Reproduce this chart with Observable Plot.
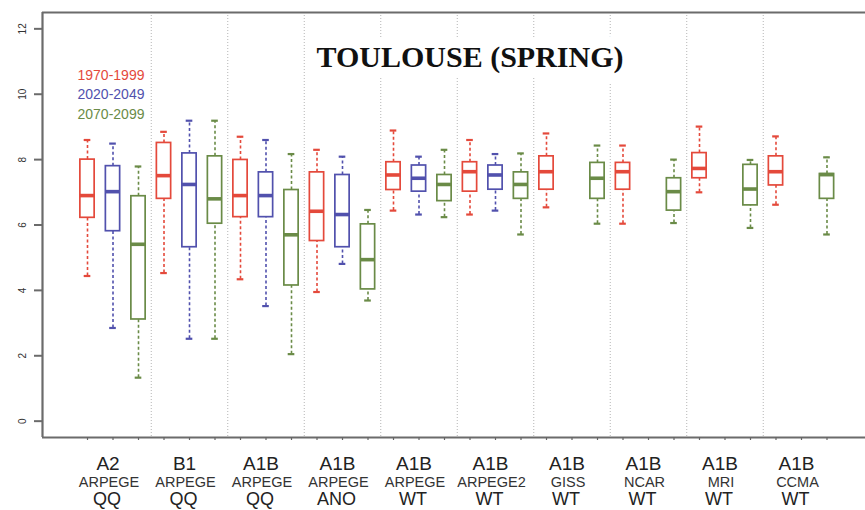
<!DOCTYPE html>
<html>
<head>
<meta charset="utf-8">
<script src="https://cdn.jsdelivr.net/npm/d3@7"></script>
<script src="https://cdn.jsdelivr.net/npm/@observablehq/plot@0.6"></script>
<style>
  html, body { margin: 0; padding: 0; background: #fff; }
</style>
</head>
<body>
<div id="chart"></div>
<script>
// ---- data ----
const title = "TOULOUSE (SPRING)";
const groupScenario = ["A2", "B1", "A1B", "A1B", "A1B", "A1B", "A1B", "A1B", "A1B", "A1B"];
const groupModel = ["ARPEGE", "ARPEGE", "ARPEGE", "ARPEGE", "ARPEGE", "ARPEGE2", "GISS", "NCAR", "MRI", "CCMA"];
const groupMethod = ["QQ", "QQ", "QQ", "ANO", "WT", "WT", "WT", "WT", "WT", "WT"];
const periods = ["1970-1999", "2020-2049", "2070-2099"];
const periodColors = ["#e4493b", "#5151ad", "#6a8b47"];
const yTicks = [0, 2, 4, 6, 8, 10, 12];

// five-number summaries: [lower whisker, Q1, median, Q3, upper whisker]
const stats1970 = [
  [4.44, 6.22, 6.90, 8.00, 8.60],
  [4.53, 6.80, 7.51, 8.51, 8.85],
  [4.34, 6.24, 6.90, 7.99, 8.70],
  [3.95, 5.51, 6.42, 7.61, 8.30],
  [6.44, 7.07, 7.53, 7.92, 8.89],
  [6.32, 7.02, 7.63, 7.92, 8.60],
  [6.54, 7.08, 7.63, 8.10, 8.80],
  [6.04, 7.08, 7.63, 7.90, 8.43],
  [7.00, 7.43, 7.73, 8.20, 9.01],
  [6.62, 7.21, 7.63, 8.10, 8.71]
];
const stats2020 = [
  [2.85, 5.81, 7.02, 7.80, 8.49],
  [2.52, 5.32, 7.24, 8.19, 9.19],
  [3.52, 6.24, 6.90, 7.61, 8.60],
  [4.81, 5.32, 6.32, 7.53, 8.09],
  [6.32, 7.02, 7.43, 7.82, 8.09],
  [6.44, 7.08, 7.53, 7.82, 8.17],
  null, null, null, null
];
const stats2070 = [
  [1.33, 3.11, 5.41, 6.88, 7.79],
  [2.52, 6.04, 6.80, 8.10, 9.19],
  [2.05, 4.15, 5.70, 7.07, 8.17],
  [3.69, 4.03, 4.94, 6.02, 6.46],
  [6.24, 6.73, 7.24, 7.53, 8.30],
  [5.71, 6.80, 7.24, 7.61, 8.19],
  [6.04, 6.80, 7.43, 7.90, 8.43],
  [6.06, 6.44, 7.02, 7.43, 8.00],
  [5.91, 6.60, 7.10, 7.84, 7.99],
  [5.71, 6.80, 7.54, 7.56, 8.07]
];

// ---- build table ----
const allStats = [stats1970, stats2020, stats2070];
const rows = [];
groupScenario.forEach((g, gi) => {
  allStats.forEach((s, k) => {
    const v = s[gi];
    if (!v) return;
    rows.push({pos: gi * 3 + k, period: periods[k], lo: v[0], q1: v[1], med: v[2], q3: v[3], hi: v[4]});
  });
});
const nPos = groupScenario.length * 3;
const separators = d3.range(1, groupScenario.length).map(g => g * 3 - 0.5);
const groupCenters = groupScenario.map((d, i) => i * 3 + 1);

const W = 865, H = 510;
const mL = 42, mT = 12, mB = 73;
const xMin = -1.765, xMax = 30.51;
const boxHalf = 0.28, capHalf = 0.13;
const frameColor = "#6b6b6b";

const plot = Plot.plot({
  width: W,
  height: H,
  marginLeft: mL,
  marginRight: 0,
  marginTop: mT,
  marginBottom: mB,
  style: {fontFamily: "Liberation Sans, Arial, sans-serif", background: "#fff", color: "#333"},
  x: {domain: [xMin, xMax], axis: null},
  y: {domain: [-0.5, 12.5], axis: null},
  color: {domain: periods, range: periodColors},
  marks: [
    // group separators
    Plot.ruleX(separators, {stroke: "#b5b5b5", strokeDasharray: "1,2", strokeWidth: 1}),
    // title with white halo
    Plot.text([title], {
      frameAnchor: "top", dx: 16, dy: 45, lineAnchor: "middle",
      fontSize: 30, fontWeight: "bold", fontFamily: "Liberation Serif, Times New Roman, serif",
      fill: "#111", stroke: "white", strokeWidth: 22, strokeLinejoin: "round", paintOrder: "stroke"
    }),
    // whiskers
    Plot.ruleX(rows, {x: "pos", y1: "q3", y2: "hi", stroke: "period", strokeWidth: 1.6, strokeDasharray: "3,2.5"}),
    Plot.ruleX(rows, {x: "pos", y1: "lo", y2: "q1", stroke: "period", strokeWidth: 1.6, strokeDasharray: "3,2.5"}),
    // whisker caps
    Plot.ruleY(rows, {y: "hi", x1: d => d.pos - capHalf, x2: d => d.pos + capHalf, stroke: "period", strokeWidth: 2.2}),
    Plot.ruleY(rows, {y: "lo", x1: d => d.pos - capHalf, x2: d => d.pos + capHalf, stroke: "period", strokeWidth: 2.2}),
    // boxes
    Plot.rect(rows, {x1: d => d.pos - boxHalf, x2: d => d.pos + boxHalf, y1: "q1", y2: "q3", fill: "white", stroke: "period", strokeWidth: 1.7}),
    // medians
    Plot.ruleY(rows, {y: "med", x1: d => d.pos - boxHalf, x2: d => d.pos + boxHalf, stroke: "period", strokeWidth: 3.6}),
    // frame lines
    Plot.ruleY([12.5], {stroke: frameColor, strokeWidth: 2.2}),
    Plot.ruleY([-0.5], {stroke: frameColor, strokeWidth: 2.2}),
    Plot.ruleX([xMin], {stroke: frameColor, strokeWidth: 2.2}),
    // y axis
    Plot.axisY({ticks: yTicks, tickSize: 8, tickPadding: 9, tickRotate: -90, fontSize: 10, strokeWidth: 2, stroke: frameColor, fill: "#333", label: null}),
    // x ticks (no labels)
    Plot.axisX({ticks: d3.range(nPos), tickFormat: () => "", tickSize: 3, strokeWidth: 1.2, stroke: "#666", label: null}),
    // legend
    ...periods.map((p, i) => Plot.text([p], {
      frameAnchor: "top-left", dx: 35, dy: 63 + i * 19.5, textAnchor: "start", lineAnchor: "middle",
      fontSize: 14, fill: periodColors[i]
    })),
    // group labels
    Plot.text(groupScenario, {x: (d, i) => groupCenters[i], frameAnchor: "bottom", dx: -5, dy: 26, lineAnchor: "middle", fontSize: 19, fill: "#222"}),
    Plot.text(groupModel, {x: (d, i) => groupCenters[i], frameAnchor: "bottom", dx: -4, dy: 45, lineAnchor: "middle", fontSize: 14.5, fill: "#333"}),
    Plot.text(groupMethod, {x: (d, i) => groupCenters[i], frameAnchor: "bottom", dx: -6, dy: 62, lineAnchor: "middle", fontSize: 18, fill: "#222"})
  ]
});
document.getElementById("chart").appendChild(plot);
</script>
</body>
</html>
